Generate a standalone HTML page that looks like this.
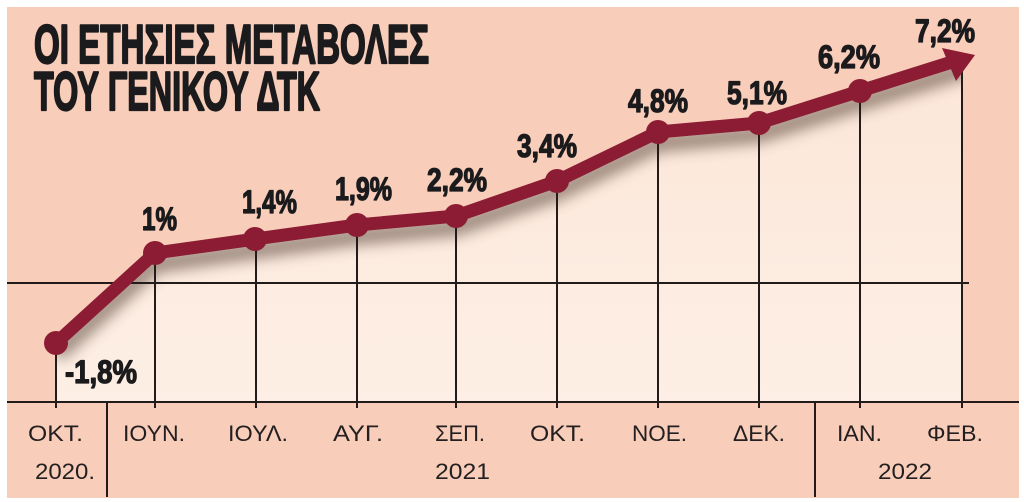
<!DOCTYPE html>
<html><head><meta charset="utf-8"><style>
html,body{margin:0;padding:0;background:#fff;width:1024px;height:502px;overflow:hidden}
svg{display:block}
.t{font-family:"Liberation Sans Narrow","Liberation Sans",sans-serif;font-weight:bold;fill:#1b1b1d;stroke:#1b1b1d;stroke-width:2.2px;stroke-linejoin:round}
.v{font-family:"Liberation Sans Narrow","Liberation Sans",sans-serif;font-weight:bold;fill:#1b1b1d;font-size:32px;stroke:#1b1b1d;stroke-width:1.3px;stroke-linejoin:round}
.a{font-family:"Liberation Sans",sans-serif;fill:#231f20;font-size:22px}
</style></head><body>
<svg width="1024" height="502" viewBox="0 0 1024 502" xmlns="http://www.w3.org/2000/svg">
<defs>
<linearGradient id="fg" x1="0" y1="0" x2="0" y2="1">
<stop offset="0" stop-color="#fce6d8"/><stop offset="1" stop-color="#fdefe5"/>
</linearGradient>
<clipPath id="under"><polygon points="56,343 155,253 255,239 357,225 456,216 557,181 658,132 759,123 860,91 962,58 962,402 56,402"/></clipPath>
<filter id="blur" x="-10%" y="-50%" width="120%" height="200%"><feGaussianBlur stdDeviation="7"/></filter>
</defs>
<rect x="7" y="7" width="1012" height="491" fill="#f8cdb9"/>
<polygon points="56,343 155,253 255,239 357,225 456,216 557,181 658,132 759,123 860,91 962,58 962,402 56,402" fill="url(#fg)"/>
<g clip-path="url(#under)">
<polyline points="56,343 155,253 255,239 357,225 456,216 557,181 658,132 759,123 860,91 975,55" fill="none" stroke="#5e4a3e" stroke-width="18" opacity="0.6" transform="translate(0,11)" filter="url(#blur)"/>
</g>
<!-- grid -->
<g stroke="#231a1a" stroke-width="2" fill="none">
<line x1="7" y1="283" x2="969" y2="283"/>
<line x1="7" y1="402" x2="1019" y2="402"/>
<line x1="56" y1="343" x2="56" y2="408"/>
<line x1="155" y1="253" x2="155" y2="408"/>
<line x1="256" y1="239" x2="256" y2="408"/>
<line x1="357" y1="225" x2="357" y2="408"/>
<line x1="456" y1="216" x2="456" y2="408"/>
<line x1="557" y1="181" x2="557" y2="408"/>
<line x1="658" y1="132" x2="658" y2="408"/>
<line x1="759" y1="123" x2="759" y2="408"/>
<line x1="860" y1="91" x2="860" y2="408"/>
<line x1="962" y1="70" x2="962" y2="408"/>
<line x1="107" y1="402" x2="107" y2="497"/>
<line x1="815" y1="402" x2="815" y2="497"/>
</g>
<!-- series -->
<polyline points="56,343 155,253 255,239 357,225 456,216 557,181 658,132 759,123 860,91 952,62" fill="none" stroke="#8c1c34" stroke-width="13" stroke-linejoin="round"/>
<polygon points="975,55 942,48 956,81" fill="#8c1c34"/>
<g fill="#8c1c34">
<circle cx="56" cy="343" r="12"/>
<circle cx="155" cy="253" r="12"/>
<circle cx="255" cy="239" r="12"/>
<circle cx="357" cy="225" r="12"/>
<circle cx="456" cy="216" r="12"/>
<circle cx="557" cy="181" r="12"/>
<circle cx="658" cy="132" r="12"/>
<circle cx="759" cy="123" r="12"/>
<circle cx="860" cy="91" r="12"/>
</g>
<!-- title -->
<text class="t" x="34" y="63" font-size="55" textLength="395" lengthAdjust="spacingAndGlyphs">ΟΙ ΕΤΗΣΙΕΣ ΜΕΤΑΒΟΛΕΣ</text>
<text class="t" x="34" y="110" font-size="55" textLength="286" lengthAdjust="spacingAndGlyphs">ΤΟΥ ΓΕΝΙΚΟΥ ΔΤΚ</text>
<!-- values -->
<text class="v" x="65" y="383" textLength="72" lengthAdjust="spacingAndGlyphs">-1,8%</text>
<text class="v" x="142" y="230" textLength="35" lengthAdjust="spacingAndGlyphs">1%</text>
<text class="v" x="242" y="213" textLength="55" lengthAdjust="spacingAndGlyphs">1,4%</text>
<text class="v" x="335" y="200" textLength="57" lengthAdjust="spacingAndGlyphs">1,9%</text>
<text class="v" x="427" y="191" textLength="60" lengthAdjust="spacingAndGlyphs">2,2%</text>
<text class="v" x="517" y="157" textLength="60" lengthAdjust="spacingAndGlyphs">3,4%</text>
<text class="v" x="628" y="112" textLength="60" lengthAdjust="spacingAndGlyphs">4,8%</text>
<text class="v" x="727" y="104" textLength="60" lengthAdjust="spacingAndGlyphs">5,1%</text>
<text class="v" x="818" y="68" textLength="62" lengthAdjust="spacingAndGlyphs">6,2%</text>
<text class="v" x="915" y="42" textLength="60" lengthAdjust="spacingAndGlyphs">7,2%</text>
<!-- axis labels -->
<text class="a" x="28" y="441" textLength="55" lengthAdjust="spacingAndGlyphs">ΟΚΤ.</text>
<text class="a" x="123" y="441" textLength="62" lengthAdjust="spacingAndGlyphs">ΙΟΥΝ.</text>
<text class="a" x="228" y="441" textLength="60" lengthAdjust="spacingAndGlyphs">ΙΟΥΛ.</text>
<text class="a" x="333" y="441" textLength="50" lengthAdjust="spacingAndGlyphs">ΑΥΓ.</text>
<text class="a" x="435" y="441" textLength="50" lengthAdjust="spacingAndGlyphs">ΣΕΠ.</text>
<text class="a" x="530" y="441" textLength="55" lengthAdjust="spacingAndGlyphs">ΟΚΤ.</text>
<text class="a" x="632" y="441" textLength="55" lengthAdjust="spacingAndGlyphs">ΝΟΕ.</text>
<text class="a" x="733" y="441" textLength="52" lengthAdjust="spacingAndGlyphs">ΔΕΚ.</text>
<text class="a" x="837" y="441" textLength="45" lengthAdjust="spacingAndGlyphs">ΙΑΝ.</text>
<text class="a" x="927" y="441" textLength="56" lengthAdjust="spacingAndGlyphs">ΦΕΒ.</text>
<text class="a" x="35" y="479" textLength="60" lengthAdjust="spacingAndGlyphs">2020.</text>
<text class="a" x="435" y="479" textLength="55" lengthAdjust="spacingAndGlyphs">2021</text>
<text class="a" x="878" y="479" textLength="54" lengthAdjust="spacingAndGlyphs">2022</text>
</svg>
</body></html>
